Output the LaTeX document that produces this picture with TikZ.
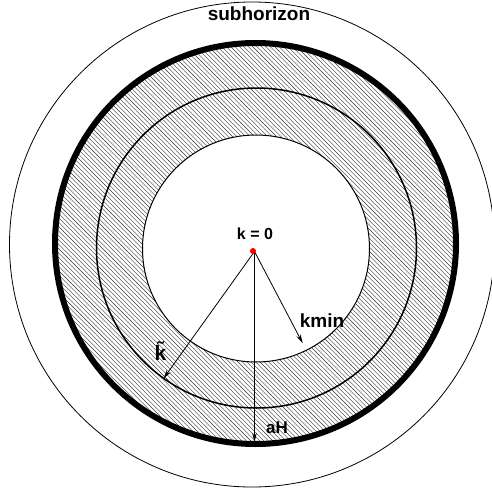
\documentclass[tikz,border=0pt]{standalone}
\usepackage{fontspec}
\setmainfont{Liberation Sans}
\usetikzlibrary{arrows.meta}
\tikzset{
  ring/.style={draw=black, line width=#1},
  hatch/.style={draw=black!80, line width=0.4pt},
  radarrow/.style={draw=black, line width=0.8pt, -{Stealth[length=9pt,width=4.5pt]}},
  lbl/.style={font=\bfseries, inner sep=0pt, anchor=base},
}
\begin{document}
\begin{tikzpicture}[x=1pt,y=-1pt]
\useasboundingbox (0,0) rectangle (492,493);
% hatching in the annulus between the thick circle and the inner circle
\begin{scope}[even odd rule]
  \clip (255.5,243.5) circle[radius=200.5] (256,248.5) circle[radius=113.5];
  \foreach \c in {-520,-515.6,...,520} {
    \draw[hatch] (\c,0) -- (\c+520,520);
  }
\end{scope}
% circles
\draw[ring=0.8pt] (252,244.5) circle[radius=242.5];
\draw[ring=6pt] (255.5,243.5) circle[radius=200.5];
\draw[ring=1.5pt] (256.5,248) circle[radius=160];
\draw[ring=1pt] (256,248.5) circle[radius=113.5];
% centre point and radii
\coordinate (o) at (254.5,251.5);
\coordinate (ktilde) at (163.5,378.5);
\coordinate (kmintip) at (302.7,343.3);
\coordinate (aHtip) at (254.5,442);
\draw[radarrow] (o) -- (ktilde);
\draw[radarrow] (o) -- (kmintip);
\draw[radarrow] (o) -- (aHtip);
\fill[red] (253,251) circle[radius=3];
\node[lbl, font=\bfseries\fontsize{19}{19}\selectfont] (sub) at (259,20) {subhorizon};
\node[lbl, font=\bfseries\fontsize{16}{16}\selectfont] (k0) at (255,239) {k = 0};
\node[lbl, font=\bfseries\fontsize{19}{19}\selectfont] (kmin) at (322,327) {kmin};
\node[lbl, font=\bfseries\fontsize{17}{17}\selectfont] (aH) at (277,433) {aH};
\node[lbl, font=\bfseries\fontsize{21}{21}\selectfont] (kt) at (160.5,360) {\~{k}};
\end{tikzpicture}
\end{document}
